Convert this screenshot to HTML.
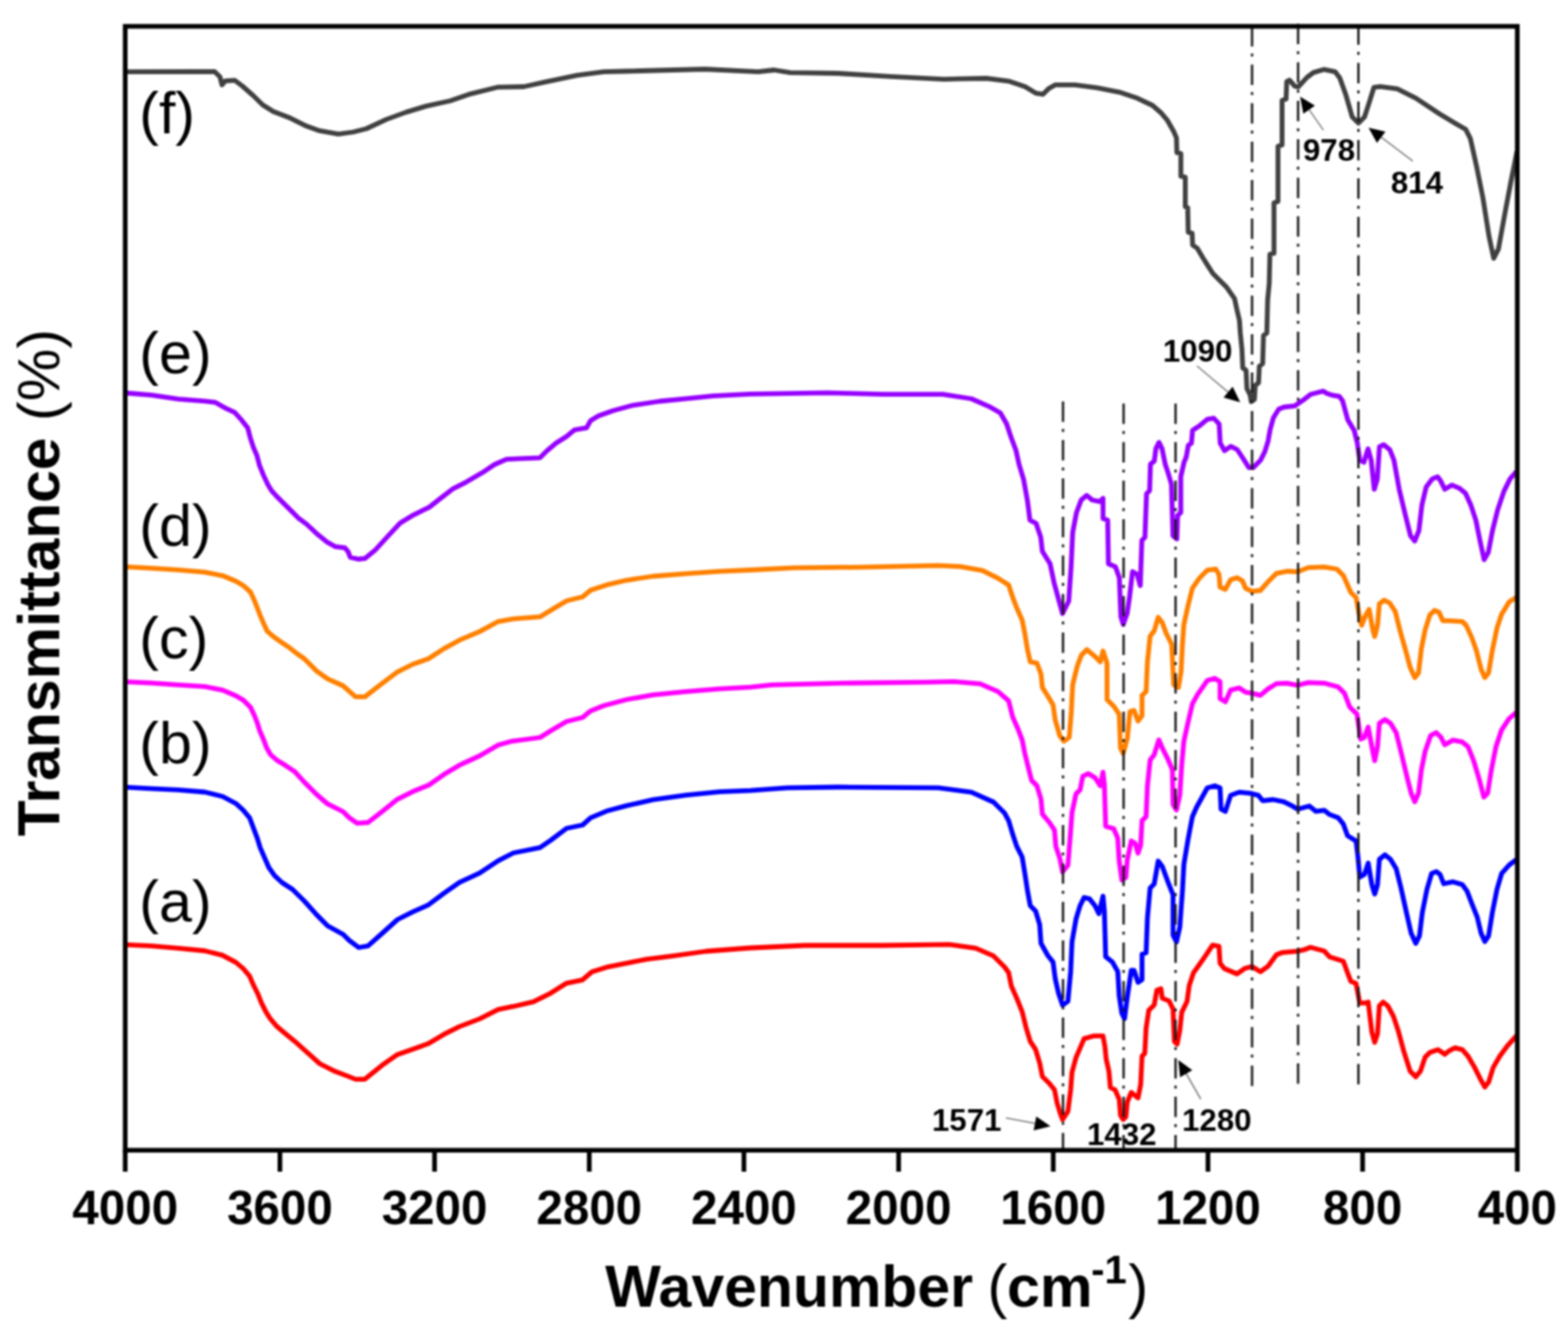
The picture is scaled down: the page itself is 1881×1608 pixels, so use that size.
<!DOCTYPE html><html><head><meta charset="utf-8"><style>html,body{margin:0;padding:0;background:#fff;}svg{display:block;filter:blur(0.8px);}</style></head><body>
<svg width="1881" height="1608" viewBox="0 0 1881 1608">
<rect width="1881" height="1608" fill="#fff"/>
<path d="M150.0 86.2L240.0 86.0L257.5 86.0L263.9 92.3L266.3 101.9L270.3 97.1L281.5 96.3L291.0 103.5L303.8 114.7L315.0 125.8L327.7 133.8L348.5 141.8L367.6 151.3L383.5 156.9L405.9 160.9L423.4 158.5L439.4 154.5L463.3 143.4L487.2 134.6L511.1 127.4L540.0 121.0L564.7 112.6L596.6 104.7L628.5 104.0L654.0 98.3L692.3 90.3L724.2 86.2L750.0 85.5L845.7 83.0L909.5 86.2L928.6 84.0L947.8 87.1L1005.0 88.0L1069.0 91.9L1132.8 95.1L1150.0 94.6L1183.2 94.0L1209.8 97.3L1229.7 103.9L1243.0 111.9L1251.0 113.2L1257.7 106.6L1265.6 101.9L1289.6 101.9L1316.1 105.3L1342.7 110.6L1362.7 117.2L1382.6 126.5L1393.2 135.8L1400.0 143.8L1407.7 157.2L1411.3 165.4L1411.8 183.1L1416.6 184.3L1416.6 211.5L1421.9 212.6L1421.9 248.1L1424.8 249.2L1425.4 278.8L1430.1 279.9L1430.7 294.1L1436.0 297.6L1443.1 309.5L1449.0 318.9L1455.0 328.2L1471.4 344.6L1481.0 358.3L1483.9 371.8L1486.9 384.7L1487.9 399.7L1489.9 419.6L1490.8 441.4L1494.8 444.4L1495.8 466.3L1499.8 474.3L1501.0 482.0L1504.8 479.3L1505.8 462.3L1509.8 459.4L1510.7 439.5L1514.7 436.5L1515.7 402.6L1519.7 399.7L1520.7 359.9L1522.6 340.0L1523.4 305.0L1528.3 304.0L1528.3 243.4L1533.1 241.8L1533.1 175.5L1538.0 173.9L1538.0 120.5L1542.8 118.8L1543.6 97.8L1546.9 96.2L1553.3 103.5L1557.4 104.3L1567.9 92.9L1575.5 87.1L1588.5 83.3L1601.6 86.1L1607.2 93.6L1614.6 114.1L1622.1 140.2L1629.6 147.7L1637.0 140.2L1643.6 119.7L1648.2 104.8L1655.7 103.9L1676.2 106.7L1698.6 117.8L1726.6 136.5L1745.3 147.7L1758.3 155.2L1763.9 166.4L1771.4 200.0L1778.9 237.3L1786.3 283.9L1791.9 310.0L1797.5 298.9L1805.0 257.8L1812.4 218.6L1819.9 181.3" fill="none" stroke="#404040" stroke-width="5.8" stroke-linejoin="round" stroke-linecap="butt"/>
<path d="M150.0 471.5L181.9 474.1L213.8 478.9L245.7 481.3L258.5 482.9L269.6 489.3L281.5 494.9L289.7 503.9L297.2 513.6L300.1 524.8L303.9 536.7L308.4 547.2L311.3 558.4L315.8 569.6L321.2 581.2L325.7 588.7L332.4 596.1L339.9 603.6L349.2 612.9L358.5 622.2L367.8 629.0L381.3 641.6L392.4 650.4L401.8 655.8L413.7 657.4L417.7 662.2L420.1 668.6L429.7 671.0L437.7 670.2L449.6 660.6L465.6 643.1L479.9 627.7L495.8 618.1L515.0 608.6L529.3 597.4L543.7 586.3L559.6 578.3L578.8 567.1L593.1 557.5L607.5 551.2L623.4 550.4L647.8 549.3L655.8 541.3L667.0 531.8L679.7 523.8L689.3 515.8L703.7 513.4L708.5 504.7L718.0 499.1L735.6 492.7L759.5 486.3L791.4 481.5L823.3 478.3L855.2 475.2L900.0 472.8L992.5 471.4L1059.0 473.2L1130.7 473.2L1165.3 478.5L1186.6 487.8L1200.0 495.5L1207.5 508.5L1213.1 525.3L1218.7 540.2L1222.4 557.0L1228.0 575.7L1232.7 601.8L1235.5 624.2L1242.9 628.0L1248.5 644.7L1250.4 661.5L1259.7 676.5L1264.4 698.9L1270.0 719.4L1274.6 736.2L1282.1 721.2L1284.9 680.2L1286.8 639.1L1291.4 614.9L1297.0 600.0L1303.6 594.4L1310.1 600.0L1319.4 601.8L1323.2 598.1L1323.2 622.3L1328.8 624.2L1329.7 676.5L1338.1 680.2L1342.8 693.3L1344.6 739.9L1347.4 749.2L1352.1 736.2L1354.9 717.5L1358.6 685.8L1364.2 689.5L1367.9 702.6L1369.8 648.5L1373.5 644.7L1375.4 592.5L1379.1 588.8L1380.1 557.0L1384.7 553.3L1386.6 538.4L1390.3 530.9L1394.0 538.4L1397.8 557.0L1401.5 568.2L1405.3 581.3L1407.1 642.9L1411.8 646.6L1412.7 618.6L1416.5 614.9L1416.5 572.0L1420.4 554.8L1423.0 548.4L1425.5 534.4L1429.3 531.8L1430.6 516.5L1438.3 511.4L1448.5 503.1L1456.1 501.9L1462.5 508.9L1463.8 531.8L1468.9 540.8L1476.5 535.7L1484.2 539.5L1491.8 551.0L1498.2 561.2L1503.3 561.2L1512.2 552.2L1517.3 542.0L1521.2 529.3L1523.7 515.3L1527.6 501.2L1534.0 491.0L1540.3 488.5L1553.1 487.2L1565.8 478.3L1572.2 473.2L1587.5 469.3L1591.3 471.9L1599.0 474.4L1606.6 475.7L1610.5 480.8L1616.8 503.8L1624.5 516.5L1628.3 531.8L1631.2 552.2L1636.2 554.7L1641.1 538.6L1644.9 552.2L1648.6 587.1L1652.3 574.6L1654.8 536.1L1659.8 533.6L1667.3 539.8L1672.2 552.2L1678.5 587.1L1685.9 618.2L1692.1 643.0L1697.1 649.3L1702.1 636.8L1705.8 605.7L1710.8 584.6L1718.3 574.6L1724.5 572.1L1728.2 577.1L1733.2 587.1L1741.9 582.1L1750.6 585.8L1758.1 592.0L1764.3 605.7L1770.5 624.4L1775.5 649.3L1780.4 671.6L1785.4 662.9L1790.4 636.8L1796.6 611.9L1804.1 589.6L1811.5 574.6L1819.0 565.9" fill="none" stroke="#9600ff" stroke-width="5.8" stroke-linejoin="round" stroke-linecap="butt"/>
<path d="M150.0 680.2L181.9 681.8L213.8 683.9L245.7 686.6L267.0 690.8L283.1 697.5L292.4 703.1L300.5 710.5L304.9 719.9L308.6 729.2L312.3 739.1L316.7 749.1L320.4 757.2L327.3 763.4L336.0 769.6L345.3 775.8L356.5 784.5L365.1 790.5L380.0 805.4L393.0 814.7L411.6 823.0L419.1 829.6L426.5 836.1L437.7 836.1L458.2 820.3L476.8 806.3L495.4 797.0L514.0 790.5L532.6 778.4L551.2 768.2L575.4 757.9L597.7 745.8L615.9 742.6L647.8 740.2L663.8 730.6L679.7 721.0L698.9 716.3L708.5 708.3L727.6 701.9L751.5 696.3L783.4 691.5L823.3 688.3L863.2 685.6L900.0 684.0L952.7 681.4L1032.4 680.6L1125.4 678.7L1152.0 679.8L1178.6 684.6L1197.2 693.9L1210.0 702.0L1214.8 716.6L1219.7 729.5L1226.2 744.1L1229.4 760.2L1232.6 779.6L1235.9 794.2L1243.9 795.8L1248.8 808.7L1250.4 824.9L1258.5 837.8L1263.3 845.9L1265.8 863.7L1271.4 883.1L1276.3 889.5L1282.7 884.7L1285.2 854.0L1286.8 821.7L1292.4 799.0L1297.3 786.1L1303.8 779.6L1313.5 787.7L1319.9 794.2L1323.2 781.2L1328.0 795.8L1328.0 839.4L1336.1 847.5L1342.6 857.2L1344.2 897.6L1347.4 904.1L1352.3 886.3L1355.5 854.0L1360.3 852.4L1365.2 865.3L1370.0 858.8L1370.0 834.6L1374.9 829.7L1376.5 794.2L1379.7 763.5L1384.6 757.0L1389.4 740.8L1394.3 747.3L1399.1 760.2L1405.6 773.2L1408.0 821.7L1413.7 824.9L1416.9 805.5L1418.5 773.2L1420.2 749.3L1425.3 726.3L1430.4 705.9L1439.3 693.2L1448.3 684.2L1458.5 683.0L1462.3 689.3L1463.6 704.6L1470.0 707.2L1476.3 695.7L1484.0 693.2L1490.4 697.0L1494.2 705.9L1501.8 709.7L1512.0 708.5L1521.0 698.3L1531.2 688.1L1543.9 685.5L1556.7 686.1L1569.4 681.1L1588.6 680.4L1603.9 683.0L1611.5 690.6L1620.5 711.0L1626.7 716.8L1630.1 735.8L1633.4 750.4L1637.9 739.2L1642.4 731.3L1646.9 756.0L1649.1 763.8L1652.5 750.4L1654.7 724.6L1660.3 720.2L1667.0 723.5L1673.7 733.6L1679.3 756.0L1687.2 784.0L1691.6 800.8L1697.2 813.1L1701.7 807.5L1705.1 778.4L1709.6 756.0L1715.2 738.1L1720.8 732.5L1726.3 734.7L1730.8 744.8L1737.5 744.8L1754.3 745.9L1758.8 750.4L1765.5 764.9L1771.1 780.6L1776.7 803.0L1781.2 813.1L1785.7 807.5L1790.2 780.6L1795.8 753.7L1801.4 736.9L1810.3 722.4L1819.3 716.8" fill="none" stroke="#ff8000" stroke-width="5.8" stroke-linejoin="round" stroke-linecap="butt"/>
<path d="M150.0 818.1L181.9 819.7L213.8 821.8L245.7 823.9L267.0 828.2L283.1 835.0L292.4 840.6L300.5 848.7L304.9 858.0L308.6 867.3L311.7 877.3L316.1 887.2L319.8 897.2L324.8 905.9L332.9 912.7L342.2 918.3L353.4 925.8L365.1 938.6L380.0 953.5L393.0 964.7L411.6 974.0L419.1 981.4L428.4 987.9L441.4 987.0L458.2 974.0L476.8 959.1L495.4 949.8L514.0 942.3L532.6 929.3L551.2 918.2L575.4 907.0L597.7 894.0L612.8 889.7L647.8 885.0L660.6 877.0L679.7 865.8L698.9 861.0L708.5 853.1L724.4 846.7L751.5 839.5L783.4 833.9L823.3 829.9L863.2 826.7L900.0 824.7L926.1 821.9L1005.8 819.8L1112.1 818.7L1144.0 817.9L1175.9 820.6L1197.2 829.9L1210.0 841.0L1214.8 860.4L1221.3 875.0L1226.2 887.9L1229.4 904.1L1234.2 923.5L1237.5 936.4L1243.9 942.9L1248.8 959.0L1250.4 976.8L1258.5 986.5L1265.0 996.2L1266.6 1015.6L1271.4 1030.2L1274.7 1046.3L1281.1 1038.2L1283.6 1007.5L1286.0 975.2L1290.8 952.6L1295.7 947.7L1298.9 931.5L1305.4 928.3L1313.5 933.2L1319.9 942.9L1323.2 926.7L1324.8 941.2L1326.4 991.4L1336.1 994.6L1340.9 1005.9L1342.6 1033.4L1345.8 1056.0L1350.6 1052.8L1352.3 1031.8L1357.1 1009.1L1362.0 1012.4L1365.2 1023.7L1368.4 1014.0L1370.0 984.9L1374.9 980.0L1376.5 942.9L1379.7 912.1L1384.6 905.7L1390.2 887.9L1394.3 897.6L1400.8 910.5L1406.4 923.5L1407.2 965.5L1411.3 972.0L1415.3 954.2L1417.7 917.0L1420.2 889.3L1425.3 866.3L1430.4 844.6L1436.8 833.2L1448.3 816.6L1457.2 814.0L1463.6 817.9L1463.6 838.3L1470.0 842.1L1476.3 828.1L1486.5 825.5L1494.2 830.6L1501.8 831.9L1512.0 834.4L1521.0 826.8L1531.2 820.4L1543.9 819.8L1556.7 822.3L1569.4 819.1L1588.6 819.8L1605.2 824.2L1612.8 831.9L1619.2 848.5L1627.8 856.8L1632.3 887.0L1636.8 884.8L1641.3 872.5L1645.7 896.0L1649.1 912.8L1652.5 896.0L1654.7 868.0L1661.4 863.5L1668.1 868.0L1674.9 879.2L1680.5 901.6L1687.2 929.6L1692.8 951.9L1697.2 962.0L1701.7 951.9L1705.1 924.0L1709.6 901.6L1716.3 882.5L1723.0 879.2L1728.6 884.8L1733.1 893.7L1743.1 888.1L1754.3 890.4L1761.1 896.0L1767.8 912.8L1774.5 935.2L1780.1 956.4L1784.6 951.9L1789.0 924.0L1794.6 896.0L1801.4 875.8L1810.3 862.4L1819.3 854.6" fill="none" stroke="#ff00ff" stroke-width="5.8" stroke-linejoin="round" stroke-linecap="butt"/>
<path d="M150.0 944.7L181.9 946.3L213.8 947.9L245.7 950.5L267.0 955.8L283.0 964.2L291.9 972.4L299.4 981.3L303.9 993.3L308.4 1005.2L312.1 1017.2L317.3 1029.1L322.5 1041.0L329.3 1050.7L338.2 1059.0L350.9 1067.2L365.1 1081.2L380.0 1097.9L393.0 1111.0L411.6 1121.2L419.1 1128.6L430.3 1137.0L441.4 1135.1L458.2 1120.3L476.8 1103.5L495.4 1094.2L514.0 1085.8L532.6 1071.9L551.2 1058.9L575.4 1047.7L597.7 1032.8L615.9 1023.5L647.8 1017.1L660.6 1008.4L679.7 994.0L698.9 990.0L708.5 981.3L727.6 973.3L751.5 966.9L783.4 959.7L823.3 954.1L863.2 950.2L900.0 948.6L944.7 945.3L1005.8 944.5L1125.4 945.3L1165.3 950.6L1191.9 962.5L1205.2 975.8L1210.0 984.8L1214.8 1001.0L1219.7 1015.6L1226.2 1028.5L1229.4 1047.9L1232.6 1068.9L1235.9 1086.7L1242.3 1093.2L1247.2 1109.3L1248.8 1132.0L1256.9 1146.5L1263.3 1154.6L1265.8 1174.0L1269.8 1191.8L1274.7 1206.3L1281.1 1201.5L1284.4 1165.9L1286.0 1130.3L1290.8 1102.9L1295.7 1086.7L1300.5 1077.0L1307.0 1078.6L1313.5 1086.7L1318.3 1096.4L1323.2 1075.4L1324.8 1093.2L1326.4 1148.1L1334.5 1154.6L1340.9 1165.9L1342.6 1195.0L1345.8 1216.0L1349.0 1222.5L1352.3 1196.6L1357.1 1164.3L1360.3 1164.3L1365.2 1178.8L1370.0 1175.6L1370.0 1144.9L1374.9 1143.3L1376.5 1101.2L1379.7 1065.7L1384.6 1060.8L1389.4 1033.3L1394.3 1039.8L1400.8 1057.6L1407.2 1073.8L1407.2 1122.3L1411.3 1130.3L1415.3 1112.6L1418.5 1068.9L1420.2 1037.3L1425.3 1006.7L1430.4 980.0L1435.5 968.5L1441.9 957.0L1448.3 945.5L1457.2 943.0L1463.6 945.5L1464.8 971.0L1470.0 973.6L1476.3 954.4L1486.5 950.6L1499.3 951.9L1509.5 954.4L1514.6 960.8L1527.3 959.5L1540.1 962.1L1550.3 967.2L1556.7 971.0L1570.7 967.2L1578.4 973.6L1588.6 972.3L1595.0 977.4L1605.2 981.2L1611.5 988.9L1616.6 1002.9L1626.8 1009.3L1629.0 1028.0L1631.2 1052.6L1636.8 1049.3L1641.3 1035.8L1645.7 1061.6L1649.1 1072.8L1652.5 1061.6L1654.7 1031.3L1661.4 1025.7L1668.1 1031.3L1674.9 1042.5L1680.5 1064.9L1687.2 1095.2L1692.8 1119.8L1698.4 1132.1L1702.8 1123.1L1706.2 1095.2L1711.8 1067.2L1717.4 1048.1L1723.0 1045.9L1727.5 1049.3L1731.9 1060.5L1743.1 1058.2L1754.3 1061.6L1759.9 1069.4L1765.5 1084.0L1772.2 1100.8L1776.7 1119.8L1781.2 1129.9L1785.7 1123.1L1790.2 1095.2L1795.8 1067.2L1801.4 1048.1L1810.3 1038.1L1819.3 1031.3" fill="none" stroke="#0000ff" stroke-width="5.8" stroke-linejoin="round" stroke-linecap="butt"/>
<path d="M150.0 1133.6L181.9 1135.2L213.8 1137.9L245.7 1141.0L267.0 1146.4L283.0 1154.9L291.9 1162.4L299.4 1171.3L303.9 1181.8L309.1 1192.2L313.6 1203.4L318.8 1213.9L324.0 1222.1L332.2 1231.8L341.9 1240.0L354.6 1250.4L365.1 1259.8L383.7 1276.5L402.3 1285.8L417.2 1291.4L426.5 1295.1L437.7 1295.1L458.2 1278.4L476.8 1265.4L495.4 1258.9L514.0 1252.3L532.6 1241.2L551.2 1231.9L575.4 1222.6L597.7 1211.4L615.9 1207.7L639.9 1202.1L660.6 1191.8L679.7 1179.8L698.9 1175.8L710.0 1166.3L727.6 1160.7L751.5 1155.9L775.4 1151.1L807.3 1147.1L847.2 1141.5L900.0 1137.5L965.9 1134.5L1059.0 1134.5L1138.7 1133.4L1170.6 1137.9L1191.9 1147.2L1205.2 1160.5L1210.0 1167.2L1213.2 1183.3L1219.7 1197.9L1226.2 1214.1L1231.0 1233.5L1235.9 1249.6L1242.3 1259.3L1247.2 1275.5L1250.4 1291.7L1258.5 1299.7L1265.0 1307.8L1268.2 1324.0L1272.2 1336.9L1274.7 1343.4L1281.1 1333.7L1284.4 1307.8L1286.0 1286.8L1290.8 1269.0L1295.7 1257.7L1300.5 1246.4L1311.8 1243.2L1323.2 1243.2L1325.5 1256.0L1327.0 1271.0L1330.3 1285.6L1332.0 1305.0L1337.7 1307.8L1342.6 1319.1L1344.2 1338.5L1347.4 1343.4L1350.6 1340.2L1352.3 1322.4L1357.1 1311.0L1365.2 1317.5L1368.4 1301.4L1370.0 1267.4L1373.3 1264.2L1374.9 1233.5L1378.1 1212.4L1384.6 1206.0L1387.8 1188.2L1392.7 1186.6L1394.3 1197.9L1402.4 1201.1L1407.2 1210.8L1408.8 1249.6L1412.1 1252.9L1415.3 1236.7L1417.7 1214.6L1424.0 1201.8L1426.6 1182.7L1431.7 1167.4L1438.1 1158.5L1447.0 1145.7L1454.6 1134.2L1462.3 1135.5L1463.6 1155.9L1468.7 1162.3L1484.0 1168.7L1492.9 1162.3L1501.8 1159.7L1512.0 1166.1L1521.0 1159.7L1531.2 1145.7L1537.6 1143.2L1556.7 1141.3L1565.6 1139.3L1572.0 1136.8L1588.6 1141.3L1595.0 1148.3L1611.5 1153.4L1616.6 1167.4L1620.5 1177.6L1626.7 1180.1L1631.2 1203.7L1636.8 1203.7L1641.3 1202.5L1645.7 1238.4L1649.1 1250.7L1652.5 1240.6L1654.7 1207.0L1659.2 1202.5L1664.8 1207.0L1671.5 1219.3L1677.1 1236.1L1683.8 1260.8L1691.6 1285.4L1698.4 1292.1L1704.0 1285.4L1709.6 1268.6L1715.2 1263.0L1725.2 1259.6L1733.1 1265.2L1738.7 1260.8L1745.4 1257.4L1754.3 1259.6L1761.1 1267.5L1768.9 1280.9L1775.6 1294.3L1781.2 1304.4L1785.7 1298.8L1791.3 1280.9L1799.1 1267.5L1808.1 1255.2L1819.3 1242.8" fill="none" stroke="#ff0000" stroke-width="5.8" stroke-linejoin="round" stroke-linecap="butt"/>
<line x1="1275.2" y1="481.7" x2="1275.2" y2="1378.0" stroke="#1a1a1a" stroke-width="2.8" stroke-dasharray="24.5 8.5 3.5 9.7"/>
<line x1="1347.9" y1="484.3" x2="1347.9" y2="1378.0" stroke="#1a1a1a" stroke-width="2.8" stroke-dasharray="24.5 8.5 3.5 9.7"/>
<line x1="1410.2" y1="484.3" x2="1410.2" y2="1378.0" stroke="#1a1a1a" stroke-width="2.8" stroke-dasharray="24.5 8.5 3.5 9.7"/>
<line x1="1502.0" y1="31.3" x2="1502.0" y2="1305.0" stroke="#1a1a1a" stroke-width="2.8" stroke-dasharray="24.5 8.5 3.5 9.7"/>
<line x1="1557.2" y1="28.5" x2="1557.2" y2="1300.5" stroke="#1a1a1a" stroke-width="2.8" stroke-dasharray="24.5 8.5 3.5 9.7"/>
<line x1="1629.6" y1="29.3" x2="1629.6" y2="1302.6" stroke="#1a1a1a" stroke-width="2.8" stroke-dasharray="24.5 8.5 3.5 9.7"/>
<rect x="150.2" y="31.6" width="1670.0" height="1348.7" fill="none" stroke="#000" stroke-width="5.6"/>
<line x1="150.2" y1="1380.3" x2="150.2" y2="1406" stroke="#000" stroke-width="5.6"/>
<line x1="335.8" y1="1380.3" x2="335.8" y2="1406" stroke="#000" stroke-width="5.6"/>
<line x1="521.3" y1="1380.3" x2="521.3" y2="1406" stroke="#000" stroke-width="5.6"/>
<line x1="706.9" y1="1380.3" x2="706.9" y2="1406" stroke="#000" stroke-width="5.6"/>
<line x1="892.4" y1="1380.3" x2="892.4" y2="1406" stroke="#000" stroke-width="5.6"/>
<line x1="1078.0" y1="1380.3" x2="1078.0" y2="1406" stroke="#000" stroke-width="5.6"/>
<line x1="1263.5" y1="1380.3" x2="1263.5" y2="1406" stroke="#000" stroke-width="5.6"/>
<line x1="1449.1" y1="1380.3" x2="1449.1" y2="1406" stroke="#000" stroke-width="5.6"/>
<line x1="1634.6" y1="1380.3" x2="1634.6" y2="1406" stroke="#000" stroke-width="5.6"/>
<line x1="1820.2" y1="1380.3" x2="1820.2" y2="1406" stroke="#000" stroke-width="5.6"/>
<g font-family="Liberation Sans, Arial, sans-serif" font-weight="bold" font-size="57" text-anchor="middle" fill="#000">
<text x="150.2" y="1468.5">4000</text>
<text x="335.8" y="1468.5">3600</text>
<text x="521.3" y="1468.5">3200</text>
<text x="706.9" y="1468.5">2800</text>
<text x="892.4" y="1468.5">2400</text>
<text x="1078.0" y="1468.5">2000</text>
<text x="1263.5" y="1468.5">1600</text>
<text x="1449.1" y="1468.5">1200</text>
<text x="1634.6" y="1468.5">800</text>
<text x="1820.2" y="1468.5">400</text>
</g>
<text x="726" y="1568" font-family="Liberation Sans, Arial, sans-serif" font-weight="bold" font-size="70.7" fill="#000">Wavenumber</text>
<text x="1184.4" y="1568" font-family="Liberation Sans, Arial, sans-serif" font-size="72" fill="#000">(</text>
<text x="1208" y="1568" font-family="Liberation Sans, Arial, sans-serif" font-weight="bold" font-size="71" fill="#000">cm</text>
<text x="1309" y="1539.5" font-family="Liberation Sans, Arial, sans-serif" font-weight="bold" font-size="48" fill="#000">-1</text>
<text x="1353.5" y="1568" font-family="Liberation Sans, Arial, sans-serif" font-size="72" fill="#000">)</text>
<text transform="translate(71,1003.6) rotate(-90)" x="0" y="0" font-family="Liberation Sans, Arial, sans-serif" font-weight="bold" font-size="70.6" fill="#000">Transmittance<tspan font-weight="normal" font-size="71"> (%)</tspan></text>
<g font-family="Liberation Sans, Arial, sans-serif" font-size="71" fill="#000">
<text x="167" y="159.5">(f)</text>
<text x="167" y="447.7">(e)</text>
<text x="167" y="655.2">(d)</text>
<text x="167" y="789.8">(c)</text>
<text x="167" y="915.6">(b)</text>
<text x="167" y="1106.0">(a)</text>
</g>
<g font-family="Liberation Sans, Arial, sans-serif" font-weight="bold" font-size="37.5" fill="#000">
<text x="1118.0" y="1356.8">1571</text>
<text x="1304.0" y="1374.0">1432</text>
<text x="1418.0" y="1356.8">1280</text>
<text x="1395.0" y="433.5">1090</text>
<text x="1563.0" y="193.4">978</text>
<text x="1668.5" y="231.7">814</text>
</g>
<line x1="1206.7" y1="1341.5" x2="1241.5" y2="1348.0" stroke="#777" stroke-width="1.6"/>
<polygon points="1260.2,1351.5 1240.0,1356.4 1243.1,1339.7" fill="#000"/>
<line x1="1435.8" y1="439.0" x2="1473.3" y2="470.6" stroke="#777" stroke-width="1.6"/>
<polygon points="1487.8,482.8 1467.8,477.1 1478.7,464.1" fill="#000"/>
<line x1="1587.6" y1="156.1" x2="1570.5" y2="131.6" stroke="#777" stroke-width="1.6"/>
<polygon points="1559.6,116.0 1577.4,126.7 1563.5,136.4" fill="#000"/>
<line x1="1694.9" y1="193.4" x2="1656.9" y2="164.7" stroke="#777" stroke-width="1.6"/>
<polygon points="1641.7,153.3 1662.0,157.9 1651.8,171.5" fill="#000"/>
<line x1="1440.5" y1="1319.0" x2="1423.0" y2="1288.5" stroke="#777" stroke-width="1.6"/>
<polygon points="1413.5,1272.0 1430.3,1284.2 1415.6,1292.7" fill="#000"/>
</svg></body></html>
